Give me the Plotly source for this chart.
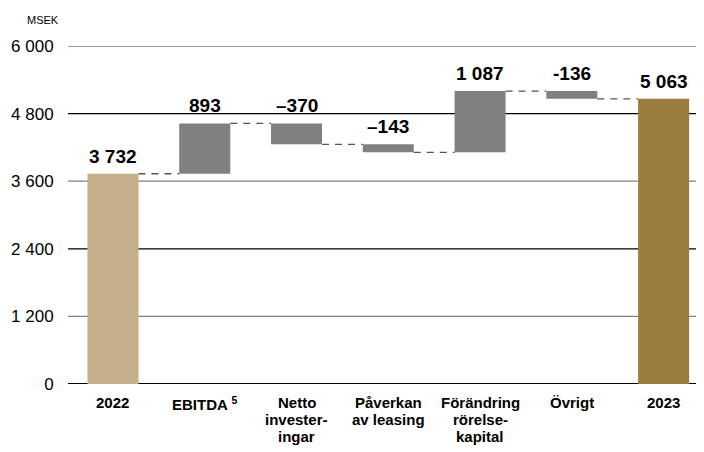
import plotly.graph_objects as go

categories = ["2022", "EBITDA <sup>5</sup>", "Netto<br>invester-<br>ingar", "Påverkan<br>av leasing",
              "Förändring<br>rörelse-<br>kapital", "Övrigt", "2023"]
values = [3732, 893, -370, -143, 1087, -136, 5063]
labels = ["3 732", "893", "–370", "–143", "1 087", "-136", "5 063"]
measures = ["absolute", "relative", "relative", "relative", "relative", "relative", "total"]
colors = ["#C5AF88", "#7F807F", "#7F807F", "#7F807F", "#7F807F", "#7F807F", "#9B7D40"]
y_ticks = [0, 1200, 2400, 3600, 4800, 6000]
y_ticktext = ["0", "1 200", "2 400", "3 600", "4 800", "6 000"]
grid_colors = ["#000000", "#808080", "#000000", "#808080", "#000000", "#808080"]

W = 0.556
xs = list(range(len(categories)))

bases, heights, tops, ends = [], [], [], []
running = 0
for m, v in zip(measures, values):
    if m in ("absolute", "total"):
        running = v
        bases.append(0)
        heights.append(v)
        tops.append(v)
    else:
        start = running
        running = running + v
        bases.append(min(start, running))
        heights.append(abs(v))
        tops.append(max(start, running))
    ends.append(running)

fig = go.Figure()

for yv, c in zip(y_ticks, grid_colors):
    fig.add_shape(type="line", xref="paper", yref="y", x0=0, x1=1, y0=yv, y1=yv,
                  line=dict(color=c, width=2 if yv == 0 else 1.3), layer="below")

fig.add_trace(go.Bar(x=xs, y=heights, base=bases, width=W, marker_color=colors,
                     marker_line_width=0, hoverinfo="skip"))

for i in range(len(xs) - 1):
    fig.add_trace(go.Scatter(x=[xs[i] + W / 2, xs[i + 1] - W / 2], y=[ends[i], ends[i]],
                             mode="lines", line=dict(color="#555555", width=1.3, dash="7px,6px"),
                             hoverinfo="skip"))

for i, t in enumerate(labels):
    fig.add_annotation(x=xs[i], y=tops[i], text="<b>%s</b>" % t, showarrow=False,
                       yanchor="bottom", yshift=5,
                       font=dict(family="Liberation Sans, Arial", size=19, color="#000000"))

# category labels, line by line
for i, c in enumerate(categories):
    for k, line in enumerate(c.split("<br>")):
        fig.add_annotation(x=xs[i], xref="x", yref="paper", y=0, yanchor="top",
                           yshift=-(8 + 17 * k), text="<b>%s</b>" % line, showarrow=False,
                           font=dict(family="Liberation Sans, Arial", size=15, color="#000000"))

fig.add_annotation(xref="paper", yref="paper", x=0, xshift=-43, y=1.077, xanchor="left", yanchor="middle",
                   text="MSEK", showarrow=False,
                   font=dict(family="Liberation Sans, Arial", size=11, color="#000000"))

# page body has an 8px margin; compensate so the plot sits at 68..704 x 46..384
fig.update_layout(
    width=704, height=452, margin=dict(l=60, r=8, t=38, b=76, autoexpand=False),
    plot_bgcolor="white", paper_bgcolor="white", showlegend=False,
    xaxis=dict(range=[-0.49, 6.44], tickvals=xs, automargin=False, showticklabels=False,
               showgrid=False, zeroline=False),
    yaxis=dict(range=[0, 6000], tickvals=y_ticks, ticktext=y_ticktext, showgrid=False, zeroline=False,
               automargin=False, ticks="outside", ticklen=10, tickcolor="rgba(0,0,0,0)",
               tickfont=dict(family="Liberation Sans, Arial", size=17, color="#000000")),
)

fig.write_html("out.html")
